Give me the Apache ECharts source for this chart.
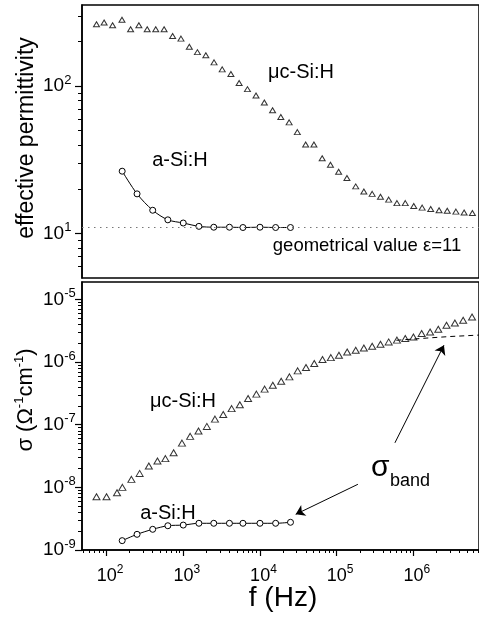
<!DOCTYPE html>
<html>
<head>
<meta charset="utf-8">
<script src="https://cdn.jsdelivr.net/npm/echarts@6/dist/echarts.min.js"></script>
<style>
html, body { margin: 0; padding: 0; background: #fff; }
#chart { width: 479px; height: 617px; }
</style>
</head>
<body>
<div id="chart"></div>
<script>
// values (f in Hz)
const mcFreqTop = [74, 93, 120, 159, 206, 264, 339, 438, 563, 727, 934, 1200, 1530, 1970, 2520, 3220, 4180, 5350, 6870, 8880,
    11400, 14600, 18700, 24000, 30700, 39400, 50500, 64700, 82900, 106000, 136000, 177000, 226000, 290000, 372000, 476000,
    610000, 783000, 1010000, 1300000, 1680000, 2160000, 2760000, 3580000, 4580000, 5870000];
const mcEpsTop = [263, 270, 259, 282, 243, 259, 243, 243, 243, 219, 210, 185, 170, 162, 145, 130, 121, 105, 95.4, 86.4,
    77.4, 68.6, 61.7, 56.8, 48.8, 40.2, 40.2, 32.4, 29.3, 26.3, 23.8, 20.9, 19.3, 18.6, 17.8, 17.0, 16.1, 16.1, 15.4, 15.0,
    14.7, 14.4, 14.3, 14.1, 13.9, 13.8];
const aFreq = [160, 250, 400, 630, 1000, 1600, 2500, 4000, 6000, 10000, 16000, 25000];
const aEpsTop = [26.5, 18.6, 14.4, 12.4, 11.8, 11.2, 11.05, 11.05, 11.0, 11.05, 11.0, 11.0];
const mcFreqBot = [74, 100, 137, 161, 211, 270, 356, 461, 585, 749, 962, 1230, 1580, 2030, 2590, 3320, 4270, 5460, 7000, 8980,
    11500, 14700, 18900, 24200, 31000, 39800, 51000, 65300, 83900, 107000, 137000, 177000, 226000, 290000, 372000, 476000,
    610000, 783000, 1000000, 1280000, 1650000, 2110000, 2700000, 3470000, 4450000, 5810000];
const mcSigmaBot = [7.08e-9, 7.08e-9, 8.2e-9, 1.0e-8, 1.34e-8, 1.67e-8, 2.19e-8, 2.63e-8, 2.88e-8, 3.56e-8,
    5.09e-8, 6.51e-8, 7.96e-8, 9.4e-8, 1.23e-7, 1.46e-7, 1.81e-7, 2.09e-7, 2.63e-7, 3.08e-7,
    3.7e-7, 4.28e-7, 4.96e-7, 5.81e-7, 7.24e-7, 8.2e-7, 9.5e-7, 1.1e-6, 1.18e-6, 1.29e-6,
    1.45e-6, 1.55e-6, 1.68e-6, 1.79e-6, 1.93e-6, 2.1e-6, 2.24e-6, 2.38e-6, 2.52e-6, 2.86e-6,
    3.03e-6, 3.35e-6, 3.88e-6, 4.22e-6, 4.66e-6, 5.26e-6];
const aSigmaBot = [1.41e-9, 1.78e-9, 2.14e-9, 2.44e-9, 2.5e-9, 2.67e-9, 2.67e-9, 2.67e-9, 2.67e-9, 2.67e-9, 2.67e-9, 2.77e-9];
const bandFreq = [600000, 1500000, 3000000, 7200000];
const bandSigma = [2.23e-6, 2.42e-6, 2.56e-6, 2.7e-6];
const geomEps = 11;

// tick labels (powers of ten)
const fMajor = [1e2, 1e3, 1e4, 1e5, 1e6];
const epsMajor = [1e1, 1e2];
const sigmaMajor = [1e-9, 1e-8, 1e-7, 1e-6, 1e-5];

// arrows pointing at sigma_band, [f, sigma]
const arrowUpFrom = [5.74e5, 5.14e-8], arrowUpTo = [2.5e6, 1.86e-6];
const arrowLeftFrom = [1.89e5, 1.12e-8], arrowLeftTo = [2.92e4, 3.71e-9];

const lg = Math.log10;
const font = '"Liberation Sans", Arial, sans-serif';
const xLo = lg(47.9), xHi = lg(7.16e6);
const epsLo = lg(5), epsHi = lg(355);
const sigLo = -9, sigHi = lg(1.9e-5);

const pairs = function (xs, ys) {
    return xs.map((x, i) => [lg(x), lg(ys[i])]);
};
const minorTicks = function (lo, hi) {
    let res = [];
    for (let e = Math.floor(lo); e <= Math.ceil(hi); e++) {
        for (let k = 2; k <= 9; k++) {
            const v = e + lg(k);
            if (v > lo && v < hi) res.push(v);
        }
    }
    return res;
};
const powLabel = function (v) {
    return '{b|10}{s|' + Math.round(v) + '}';
};

const majorAxis = function (dim, gridIndex, lo, hi, majors) {
    const isX = dim === 'x';
    return {
        type: 'value', gridIndex: gridIndex, min: lo, max: hi,
        splitLine: { show: false },
        axisLine: { show: true, onZero: false, lineStyle: { color: '#000', width: 1.5 } },
        axisTick: { show: true, customValues: majors.map(lg), length: isX ? 6 : 7, lineStyle: { color: '#000', width: 1.2 } },
        axisLabel: {
            show: true,
            customValues: majors.map(lg),
            formatter: powLabel,
            margin: isX ? 16 : 39,
            align: isX ? 'center' : 'left',
            rich: {
                b: { fontFamily: font, fontSize: isX ? 18 : 19, color: '#000', lineHeight: 20, padding: isX ? [0, 0, 0, 7] : 0 },
                s: { fontFamily: font, fontSize: isX ? 12 : 13, color: '#000', lineHeight: 12, padding: [0, 0, 12, 0] },
            },
        },
    };
};
const minorAxis = function (dim, gridIndex, lo, hi) {
    return {
        type: 'value', gridIndex: gridIndex, min: lo, max: hi,
        splitLine: { show: false },
        axisLine: { show: false, onZero: false },
        axisTick: { show: true, customValues: minorTicks(lo, hi), length: dim === 'x' ? 3 : 4, lineStyle: { color: '#000', width: 1 } },
        axisLabel: { show: false },
    };
};
const blankAxis = function (gridIndex, lo, hi) {
    return {
        type: 'value', gridIndex: gridIndex, min: lo, max: hi,
        axisLine: { show: false, onZero: false }, axisTick: { show: false },
        axisLabel: { show: false }, splitLine: { show: false },
    };
};
const label = function (text, x, y, size) {
    return {
        type: 'text', x: x, y: y, silent: true,
        style: { text: text, fontFamily: font, fontSize: size, fill: '#000', align: 'center', verticalAlign: 'middle' },
    };
};

// open markers: white fill, black outline
const openMarker = { color: '#fff', borderColor: '#000', borderWidth: 1 };

const chart = echarts.init(document.getElementById('chart'));
chart.setOption({
    animation: false,
    backgroundColor: '#fff',
    grid: [
        { left: 82, width: 400, top: 5, height: 273, show: true, borderColor: '#000', borderWidth: 1.5, backgroundColor: 'transparent' },
        { left: 82, width: 400, top: 5, height: 273, show: false },
        { left: 82, width: 400, top: 282, height: 268, show: true, borderColor: '#000', borderWidth: 1.5, backgroundColor: 'transparent' },
        { left: 82, width: 400, top: 282, height: 268, show: false },
    ],
    xAxis: [
        blankAxis(0, xLo, xHi),
        blankAxis(1, xLo, xHi),
        majorAxis('x', 2, xLo, xHi, fMajor),
        minorAxis('x', 3, xLo, xHi),
    ],
    yAxis: [
        majorAxis('y', 0, epsLo, epsHi, epsMajor),
        minorAxis('y', 1, epsLo, epsHi),
        majorAxis('y', 2, sigLo, sigHi, sigmaMajor),
        minorAxis('y', 3, sigLo, sigHi),
    ],
    series: [
        {
            type: 'scatter', name: 'μc-Si:H ε', xAxisIndex: 0, yAxisIndex: 0,
            data: pairs(mcFreqTop, mcEpsTop),
            symbol: 'triangle', symbolSize: [6, 5], itemStyle: openMarker,
        },
        {
            type: 'line', name: 'a-Si:H ε', xAxisIndex: 0, yAxisIndex: 0,
            data: pairs(aFreq, aEpsTop), smooth: 0.3,
            symbol: 'circle', symbolSize: 6,
            lineStyle: { color: '#000', width: 1 }, itemStyle: openMarker,
            markLine: {
                silent: true, symbol: 'none', label: { show: false },
                lineStyle: { color: '#777', width: 1.2, type: [1.5, 4.5] },
                data: [{ yAxis: lg(geomEps) }],
            },
        },
        {
            type: 'line', name: 'σband', xAxisIndex: 2, yAxisIndex: 2,
            data: pairs(bandFreq, bandSigma), symbol: 'none',
            lineStyle: { color: '#000', width: 1, type: [5, 4] },
            markLine: {
                silent: true, symbol: ['none', 'arrow'], symbolSize: 9, label: { show: false },
                lineStyle: { color: '#000', width: 1, type: 'solid' },
                data: [
                    [{ coord: arrowUpFrom.map(lg) }, { coord: arrowUpTo.map(lg) }],
                    [{ coord: arrowLeftFrom.map(lg) }, { coord: arrowLeftTo.map(lg) }],
                ],
            },
        },
        {
            type: 'scatter', name: 'μc-Si:H σ', xAxisIndex: 2, yAxisIndex: 2,
            data: pairs(mcFreqBot, mcSigmaBot),
            symbol: 'triangle', symbolSize: [7, 6], itemStyle: openMarker,
        },
        {
            type: 'line', name: 'a-Si:H σ', xAxisIndex: 2, yAxisIndex: 2,
            data: pairs(aFreq, aSigmaBot), smooth: 0.3,
            symbol: 'circle', symbolSize: 6,
            lineStyle: { color: '#000', width: 1 }, itemStyle: openMarker,
        },
    ],
    graphic: [
        label('μc-Si:H', 301, 72, 20),
        label('a-Si:H', 180, 160, 20),
        label('geometrical value ε=11', 367, 246, 18.5),
        label('μc-Si:H', 183, 401, 20),
        label('a-Si:H', 168, 513, 20),
        label('f (Hz)', 283, 598, 28),
        {
            type: 'text', x: 371, y: 468, silent: true,
            style: { text: 'σ', fontFamily: font, fontSize: 30, fill: '#000', align: 'left', verticalAlign: 'middle' },
        },
        {
            type: 'text', x: 390, y: 481, silent: true,
            style: { text: 'band', fontFamily: font, fontSize: 18, fill: '#000', align: 'left', verticalAlign: 'middle' },
        },
        {
            type: 'text', x: 27, y: 138, rotation: Math.PI / 2, silent: true,
            style: { text: 'effective permittivity', fontFamily: font, fontSize: 23, fill: '#000', align: 'center', verticalAlign: 'middle' },
        },
        {
            type: 'text', x: 26, y: 400, rotation: Math.PI / 2, silent: true,
            style: {
                text: '{a|σ (Ω}{s|-1}{a|cm}{s|-1}{a|)}', align: 'center', verticalAlign: 'middle',
                rich: {
                    a: { fontFamily: font, fontSize: 22, fill: '#000', lineHeight: 24 },
                    s: { fontFamily: font, fontSize: 13, fill: '#000', lineHeight: 13, padding: [0, 0, 14, 0] },
                },
            },
        },
    ],
});
</script>
</body>
</html>
